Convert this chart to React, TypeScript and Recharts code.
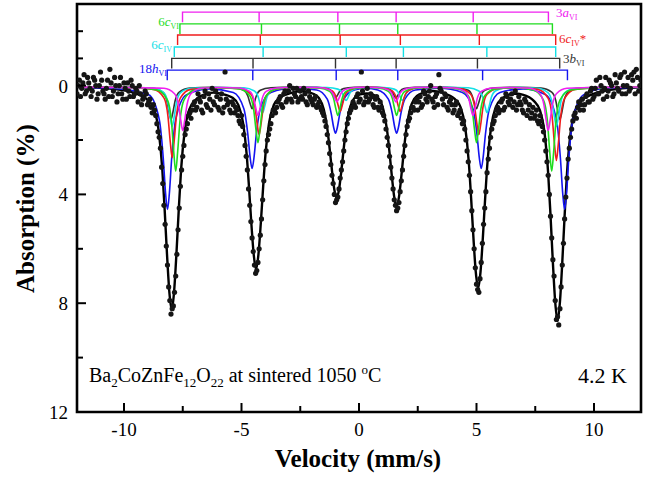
import React from 'react';
import { ComposedChart, Line, Scatter, XAxis, YAxis, ReferenceArea } from 'recharts';

const velocityTicks = [-10, -7.5, -5, -2.5, 0, 2.5, 5, 7.5, 10];
const velocityLabels = [-10, -5, 0, 5, 10];
const absorptionTicks = [-2, -1, 0, 2, 4, 6, 8, 10, 12];
const absorptionLabels = [0, 4, 8, 12];

// measured spectrum, [velocity mm/s, absorption %], even channels
const measuredA: [number, number][] = [
  [-12.0, 0.3], [-11.9, -0.2], [-11.8, 0.1], [-11.7, -0.4], [-11.6, 0.2], [-11.5, -0.1], [-11.4, 0.4], [-11.3, -0.3],
  [-11.2, 0.0], [-11.1, 0.3], [-11.0, -0.5], [-10.9, 0.2], [-10.8, 0.5], [-10.7, -0.2], [-10.6, -0.6], [-10.5, 0.4],
  [-10.4, -0.3], [-10.3, 0.6], [-10.2, 0.0], [-10.1, 0.3], [-10.0, -0.1], [-9.9, 0.5], [-9.8, 0.2], [-9.7, -0.2],
  [-9.6, 0.4], [-9.5, 0.1], [-9.4, 0.6], [-9.3, 0.3], [-9.2, 0.5], [-9.1, 0.2], [-9.0, 0.7], [-8.9, 0.5],
  [-8.8, 1.0], [-8.7, 0.9], [-8.6, 1.4], [-8.5, 1.9], [-8.4, 3.0], [-8.3, 4.4], [-8.2, 5.9], [-8.1, 7.4],
  [-8.0, 8.4], [-7.9, 8.1], [-7.8, 7.0], [-7.7, 5.3], [-7.6, 3.7], [-7.5, 2.6], [-7.4, 1.8], [-7.3, 1.4],
  [-7.2, 1.0], [-7.1, 0.9], [-7.0, 0.6], [-6.9, 0.8], [-6.8, 0.5], [-6.7, 0.9], [-6.6, 0.4], [-6.5, 0.7],
  [-6.4, 0.3], [-6.3, 0.9], [-6.2, 0.6], [-6.1, 0.2], [-6.0, 0.8], [-5.9, 0.5], [-5.8, 1.0], [-5.7, -0.5],
  [-5.6, 0.7], [-5.5, 0.9], [-5.4, 0.6], [-5.3, 1.0], [-5.2, 0.9], [-5.1, 1.3], [-5.0, 1.1], [-4.9, 1.8],
  [-4.8, 2.6], [-4.7, 3.8], [-4.6, 5.0], [-4.5, 6.1], [-4.4, 6.9], [-4.3, 6.5], [-4.2, 5.5], [-4.1, 4.2],
  [-4.0, 2.9], [-3.9, 2.0], [-3.8, 1.6], [-3.7, 1.1], [-3.6, 0.9], [-3.5, 0.8], [-3.4, 0.5], [-3.3, 0.7],
  [-3.2, 0.3], [-3.1, 0.6], [-3.0, 0.2], [-2.9, 0.5], [-2.8, 0.1], [-2.7, 0.4], [-2.6, 0.6], [-2.5, 0.2],
  [-2.4, 0.5], [-2.3, 0.3], [-2.2, 0.7], [-2.1, 0.4], [-2.0, 0.6], [-1.9, 0.5], [-1.8, 0.8], [-1.7, 0.6],
  [-1.6, 0.9], [-1.5, 1.1], [-1.4, 1.5], [-1.3, 2.1], [-1.2, 2.9], [-1.1, 3.6], [-1.0, 4.3], [-0.9, 4.1],
  [-0.8, 3.4], [-0.7, 2.8], [-0.6, 2.0], [-0.5, 1.4], [-0.4, 1.0], [-0.3, 0.8], [-0.2, 0.7], [-0.1, 0.4],
  [0.0, 0.6], [0.1, -0.5], [0.2, 0.7], [0.3, 0.4], [0.4, 0.6], [0.5, 0.3], [0.6, 0.7], [0.7, 0.5],
  [0.8, 0.8], [0.9, 0.6], [1.0, 1.0], [1.1, 1.3], [1.2, 1.9], [1.3, 2.6], [1.4, 3.4], [1.5, 4.2],
  [1.6, 4.6], [1.7, 4.3], [1.8, 3.5], [1.9, 2.6], [2.0, 1.8], [2.1, 1.3], [2.2, 1.0], [2.3, 0.8],
  [2.4, 0.6], [2.5, 0.9], [2.6, 0.4], [2.7, 0.7], [2.8, 0.3], [2.9, 0.6], [3.0, 0.2], [3.1, 0.5],
  [3.2, 0.8], [3.3, 0.3], [3.4, -0.4], [3.5, 0.2], [3.6, 0.7], [3.7, 0.4], [3.8, 0.9], [3.9, 0.5],
  [4.0, 1.0], [4.1, 0.7], [4.2, 1.1], [4.3, 0.9], [4.4, 1.4], [4.5, 1.6], [4.6, 2.4], [4.7, 3.3],
  [4.8, 4.6], [4.9, 6.0], [5.0, 7.3], [5.1, 7.6], [5.2, 6.5], [5.3, 5.1], [5.4, 3.9], [5.5, 2.7],
  [5.6, 1.9], [5.7, 1.4], [5.8, 1.1], [5.9, 0.8], [6.0, 0.9], [6.1, 0.5], [6.2, 0.8], [6.3, 0.4],
  [6.4, 0.7], [6.5, 0.3], [6.6, 0.6], [6.7, 0.9], [6.8, 0.4], [6.9, 0.7], [7.0, 1.0], [7.1, 0.6],
  [7.2, 0.9], [7.3, 1.2], [7.4, 0.8], [7.5, 1.1], [7.6, 1.3], [7.7, 1.1], [7.8, 1.5], [7.9, 2.0],
  [8.0, 2.8], [8.1, 4.0], [8.2, 5.6], [8.3, 7.0], [8.4, 8.6], [8.5, 8.8], [8.6, 7.4], [8.7, 5.8],
  [8.8, 4.1], [8.9, 2.7], [9.0, 1.9], [9.1, 1.3], [9.2, 1.0], [9.3, 0.8], [9.4, 0.9], [9.5, 0.5],
  [9.6, 0.7], [9.7, 0.3], [9.8, 0.6], [9.9, 0.1], [10.0, 0.4], [10.1, -0.2], [10.2, 0.3], [10.3, 0.0],
  [10.4, 0.5], [10.5, -0.3], [10.6, 0.2], [10.7, -0.1], [10.8, 0.4], [10.9, -0.4], [11.0, 0.1], [11.1, -0.3],
  [11.2, 0.3], [11.3, -0.5], [11.4, 0.0], [11.5, 0.2], [11.6, -0.4], [11.7, -0.5], [11.8, -0.6], [11.9, 0.2],
  [12.0, -0.2],
];

// odd channels
const measuredB: [number, number][] = [
  [-11.95, 0.0], [-11.85, 0.4], [-11.75, -0.1], [-11.65, 0.3], [-11.55, -0.3], [-11.45, 0.1], [-11.35, 0.2], [-11.25, -0.2],
  [-11.15, 0.5], [-11.05, 0.0], [-10.95, -0.2], [-10.85, 0.3], [-10.75, 0.1], [-10.65, 0.4], [-10.55, -0.1], [-10.45, 0.2],
  [-10.35, 0.0], [-10.25, 0.3], [-10.15, -0.3], [-10.05, 0.5], [-9.95, 0.1], [-9.85, -0.1], [-9.75, 0.4], [-9.65, 0.0],
  [-9.55, 0.3], [-9.45, 0.2], [-9.35, 0.0], [-9.25, 0.7], [-9.15, 0.4], [-9.05, 0.3], [-8.95, 0.6], [-8.85, 0.8],
  [-8.75, 0.7], [-8.65, 1.1], [-8.55, 1.7], [-8.45, 2.3], [-8.35, 3.6], [-8.25, 5.1], [-8.15, 6.6], [-8.05, 7.9],
  [-7.95, 8.2], [-7.85, 7.6], [-7.75, 6.2], [-7.65, 4.5], [-7.55, 3.1], [-7.45, 2.2], [-7.35, 1.6], [-7.25, 1.1],
  [-7.15, 1.2], [-7.05, 0.7], [-6.95, 0.9], [-6.85, 0.3], [-6.75, 0.6], [-6.65, 1.0], [-6.55, 0.2], [-6.45, 0.8],
  [-6.35, 0.5], [-6.25, 0.1], [-6.15, 0.7], [-6.05, 0.4], [-5.95, 0.9], [-5.85, 0.3], [-5.75, 0.8], [-5.65, 0.5],
  [-5.55, 0.6], [-5.45, 1.0], [-5.35, 0.7], [-5.25, 0.8], [-5.15, 1.1], [-5.05, 1.4], [-4.95, 1.5], [-4.85, 2.2],
  [-4.75, 3.1], [-4.65, 4.4], [-4.55, 5.6], [-4.45, 6.6], [-4.35, 6.8], [-4.25, 6.0], [-4.15, 4.9], [-4.05, 3.5],
  [-3.95, 2.4], [-3.85, 1.8], [-3.75, 1.4], [-3.65, 0.9], [-3.55, 1.0], [-3.45, 0.6], [-3.35, 0.4], [-3.25, 0.8],
  [-3.15, 0.2], [-3.05, 0.5], [-2.95, 0.0], [-2.85, 0.6], [-2.75, 0.3], [-2.65, 0.1], [-2.55, 0.5], [-2.45, 0.4],
  [-2.35, 0.1], [-2.25, 0.6], [-2.15, 0.2], [-2.05, 0.5], [-1.95, 0.7], [-1.85, 0.4], [-1.75, 0.7], [-1.65, 0.8],
  [-1.55, 1.0], [-1.45, 1.3], [-1.35, 1.8], [-1.25, 2.5], [-1.15, 3.3], [-1.05, 4.0], [-0.95, 4.2], [-0.85, 3.8],
  [-0.75, 3.1], [-0.65, 2.4], [-0.55, 1.7], [-0.45, 1.2], [-0.35, 0.9], [-0.25, 0.6], [-0.15, 0.8], [-0.05, 0.3],
  [0.05, 0.5], [0.15, 0.2], [0.25, 0.6], [0.35, 0.1], [0.45, 0.5], [0.55, 0.4], [0.65, 0.8], [0.75, 0.4],
  [0.85, 0.9], [0.95, 0.8], [1.05, 1.1], [1.15, 1.6], [1.25, 2.2], [1.35, 3.0], [1.45, 3.8], [1.55, 4.4],
  [1.65, 4.5], [1.75, 3.9], [1.85, 3.1], [1.95, 2.2], [2.05, 1.5], [2.15, 1.2], [2.25, 0.8], [2.35, 0.9],
  [2.45, 0.5], [2.55, 0.6], [2.65, 0.8], [2.75, 0.2], [2.85, 0.5], [2.95, 0.4], [3.05, 0.0], [3.15, 0.6],
  [3.25, 0.4], [3.35, 0.7], [3.45, 0.1], [3.55, 0.5], [3.65, 0.3], [3.75, 0.8], [3.85, 0.6], [3.95, 0.7],
  [4.05, 0.9], [4.15, 0.6], [4.25, 1.0], [4.35, 1.2], [4.45, 1.3], [4.55, 2.0], [4.65, 2.8], [4.75, 3.9],
  [4.85, 5.3], [4.95, 6.7], [5.05, 7.5], [5.15, 7.1], [5.25, 5.8], [5.35, 4.5], [5.45, 3.2], [5.55, 2.3],
  [5.65, 1.6], [5.75, 1.3], [5.85, 0.9], [5.95, 1.0], [6.05, 0.6], [6.15, 0.9], [6.25, 0.3], [6.35, 0.6],
  [6.45, 0.5], [6.55, 0.8], [6.65, 0.2], [6.75, 0.7], [6.85, 0.6], [6.95, 0.9], [7.05, 0.5], [7.15, 1.1],
  [7.25, 0.7], [7.35, 1.0], [7.45, 1.2], [7.55, 0.9], [7.65, 1.4], [7.75, 1.3], [7.85, 1.7], [7.95, 2.4],
  [8.05, 3.3], [8.15, 4.8], [8.25, 6.4], [8.35, 7.9], [8.45, 8.5], [8.55, 8.2], [8.65, 6.6], [8.75, 4.9],
  [8.85, 3.4], [8.95, 2.3], [9.05, 1.6], [9.15, 1.1], [9.25, 1.2], [9.35, 0.6], [9.45, 0.7], [9.55, 0.9],
  [9.65, 0.4], [9.75, 0.6], [9.85, 0.2], [9.95, 0.5], [10.05, 0.1], [10.15, 0.3], [10.25, -0.3], [10.35, 0.2],
  [10.45, 0.1], [10.55, 0.4], [10.65, -0.2], [10.75, 0.0], [10.85, 0.3], [10.95, -0.1], [11.05, 0.2], [11.15, -0.4],
  [11.25, 0.0], [11.35, 0.3], [11.45, -0.3], [11.55, 0.1], [11.65, -0.2], [11.75, 0.3], [11.85, -0.3], [11.95, 0.0],
];

// total fit
const fitTotal: [number, number][] = [
  [-12, 0.05], [-11, 0.08], [-10.3, 0.14],
  [-9.47, 0.3], [-8.97, 0.54], [-8.72, 0.87], [-8.52, 1.69], [-8.37, 3.08], [-8.27, 4.56], [-8.17, 6.2], [-8.07, 7.59],
  [-7.97, 8.25], [-7.87, 7.59], [-7.77, 6.2], [-7.67, 4.56], [-7.57, 3.08], [-7.42, 1.69], [-7.22, 0.87], [-6.97, 0.54], [-6.47, 0.3],
  [-6.2, 0.26],
  [-5.88, 0.3], [-5.38, 0.45], [-5.13, 0.72], [-4.93, 1.39], [-4.78, 2.53], [-4.68, 3.74], [-4.58, 5.08], [-4.48, 6.21],
  [-4.38, 6.75], [-4.28, 6.21], [-4.18, 5.08], [-4.08, 3.74], [-3.98, 2.53], [-3.83, 1.39], [-3.63, 0.72], [-3.38, 0.45], [-2.88, 0.27],
  [-2.45, 0.2], [-1.95, 0.3], [-1.7, 0.46], [-1.5, 0.87], [-1.35, 1.57], [-1.25, 2.31], [-1.15, 3.13], [-1.05, 3.82],
  [-0.95, 4.15], [-0.85, 3.82], [-0.75, 3.13], [-0.65, 2.31], [-0.55, 1.57], [-0.4, 0.87], [-0.2, 0.46], [0.05, 0.32],
  [0.33, 0.29],
  [0.6, 0.33], [0.85, 0.49], [1.05, 0.93], [1.2, 1.68], [1.3, 2.47], [1.4, 3.35], [1.5, 4.1],
  [1.6, 4.45], [1.7, 4.1], [1.8, 3.35], [1.9, 2.47], [2.0, 1.68], [2.15, 0.93], [2.35, 0.49], [2.6, 0.31], [3.1, 0.2],
  [3.57, 0.27], [4.07, 0.49], [4.32, 0.79], [4.52, 1.53], [4.67, 2.79], [4.77, 4.12], [4.87, 5.6], [4.97, 6.86],
  [5.07, 7.45], [5.17, 6.86], [5.27, 5.6], [5.37, 4.12], [5.47, 2.79], [5.62, 1.53], [5.82, 0.79], [6.07, 0.49], [6.57, 0.3],
  [6.76, 0.3],
  [6.95, 0.33], [7.45, 0.57], [7.7, 0.91], [7.9, 1.77], [8.05, 3.23], [8.15, 4.78], [8.25, 6.5], [8.35, 7.96],
  [8.45, 8.65], [8.55, 7.96], [8.65, 6.5], [8.75, 4.78], [8.85, 3.23], [9.0, 1.77], [9.2, 0.91], [9.45, 0.57], [9.95, 0.31],
  [10.5, 0.18], [11.2, 0.1], [12, 0.06],
];

// subspectra
const fit18hVI: [number, number][] = [
  [-12, 0.06], [-10.5, 0.1],
  [-8.95, 0.34], [-8.5, 1.24], [-8.33, 2.66], [-8.23, 3.97], [-8.15, 4.55], [-8.07, 3.97], [-7.97, 2.66], [-7.8, 1.24], [-7.35, 0.34],
  [-6.35, 0.12],
  [-5.35, 0.25], [-4.9, 0.85], [-4.73, 1.79], [-4.63, 2.66], [-4.55, 3.05], [-4.47, 2.66], [-4.37, 1.79], [-4.2, 0.85], [-3.75, 0.25],
  [-2.78, 0.1],
  [-1.8, 0.16], [-1.35, 0.5], [-1.18, 1.04], [-1.08, 1.53], [-1.0, 1.75], [-0.92, 1.53], [-0.82, 1.04], [-0.65, 0.5], [-0.2, 0.16],
  [0.3, 0.1],
  [0.8, 0.16], [1.25, 0.5], [1.42, 1.04], [1.52, 1.53], [1.6, 1.75], [1.68, 1.53], [1.78, 1.04], [1.95, 0.5], [2.4, 0.16],
  [3.4, 0.1],
  [4.4, 0.25], [4.85, 0.85], [5.02, 1.79], [5.12, 2.66], [5.2, 3.05], [5.28, 2.66], [5.38, 1.79], [5.55, 0.85], [6.0, 0.25],
  [6.98, 0.12],
  [7.95, 0.34], [8.4, 1.24], [8.57, 2.66], [8.67, 3.97], [8.75, 4.55], [8.83, 3.97], [8.93, 2.66], [9.1, 1.24], [9.55, 0.34],
  [10.5, 0.1], [12, 0.06],
];

const fit6cVI: [number, number][] = [
  [-12, 0.05], [-10, 0.07],
  [-8.6, 0.16], [-8.15, 0.53], [-7.98, 1.32], [-7.88, 2.47], [-7.8, 3.15], [-7.72, 2.47], [-7.62, 1.32], [-7.45, 0.53], [-7.0, 0.16],
  [-6.05, 0.08],
  [-5.1, 0.12], [-4.65, 0.37], [-4.48, 0.89], [-4.38, 1.65], [-4.3, 2.1], [-4.22, 1.65], [-4.12, 0.89], [-3.95, 0.37], [-3.5, 0.12],
  [-2.6, 0.07],
  [-1.7, 0.09], [-1.25, 0.21], [-1.08, 0.48], [-0.98, 0.87], [-0.9, 1.1], [-0.82, 0.87], [-0.72, 0.48], [-0.55, 0.21], [-0.1, 0.09],
  [0.35, 0.07],
  [0.8, 0.09], [1.25, 0.21], [1.42, 0.48], [1.52, 0.87], [1.6, 1.1], [1.68, 0.87], [1.78, 0.48], [1.95, 0.21], [2.4, 0.09],
  [3.3, 0.07],
  [4.2, 0.12], [4.65, 0.37], [4.82, 0.89], [4.92, 1.65], [5.0, 2.1], [5.08, 1.65], [5.18, 0.89], [5.35, 0.37], [5.8, 0.12],
  [6.6, 0.08],
  [7.4, 0.16], [7.85, 0.53], [8.02, 1.32], [8.12, 2.47], [8.2, 3.15], [8.28, 2.47], [8.38, 1.32], [8.55, 0.53], [9.0, 0.16],
  [10.5, 0.07], [12, 0.05],
];

const fit6cIVstar: [number, number][] = [
  [-12, 0.05], [-10, 0.07],
  [-8.75, 0.14], [-8.3, 0.45], [-8.13, 1.12], [-8.03, 2.08], [-7.95, 2.65], [-7.87, 2.08], [-7.77, 1.12], [-7.6, 0.45], [-7.15, 0.14],
  [-6.1, 0.08],
  [-5.05, 0.11], [-4.6, 0.32], [-4.43, 0.77], [-4.33, 1.42], [-4.25, 1.8], [-4.17, 1.42], [-4.07, 0.77], [-3.9, 0.32], [-3.45, 0.11],
  [-2.5, 0.07],
  [-1.6, 0.08], [-1.15, 0.19], [-0.98, 0.42], [-0.88, 0.75], [-0.8, 0.95], [-0.72, 0.75], [-0.62, 0.42], [-0.45, 0.19], [0.0, 0.08],
  [0.5, 0.06],
  [0.95, 0.08], [1.4, 0.19], [1.57, 0.42], [1.67, 0.75], [1.75, 0.95], [1.83, 0.75], [1.93, 0.42], [2.1, 0.19], [2.55, 0.08],
  [3.4, 0.07],
  [4.3, 0.11], [4.75, 0.32], [4.92, 0.77], [5.02, 1.42], [5.1, 1.8], [5.18, 1.42], [5.28, 0.77], [5.45, 0.32], [5.9, 0.11],
  [6.75, 0.08],
  [7.6, 0.14], [8.05, 0.47], [8.22, 1.16], [8.32, 2.16], [8.4, 2.75], [8.48, 2.16], [8.58, 1.16], [8.75, 0.47], [9.2, 0.14],
  [10.5, 0.07], [12, 0.05],
];

const fit6cIV: [number, number][] = [
  [-12, 0.05], [-10, 0.07],
  [-8.75, 0.1], [-8.3, 0.27], [-8.13, 0.64], [-8.03, 1.18], [-7.95, 1.5], [-7.87, 1.18], [-7.77, 0.64], [-7.6, 0.27], [-7.15, 0.1],
  [-6.0, 0.07],
  [-4.9, 0.08], [-4.45, 0.2], [-4.28, 0.44], [-4.18, 0.79], [-4.1, 1.0], [-4.02, 0.79], [-3.92, 0.44], [-3.75, 0.2], [-3.3, 0.08],
  [-2.3, 0.06],
  [-1.35, 0.07], [-0.9, 0.13], [-0.73, 0.25], [-0.63, 0.44], [-0.55, 0.55], [-0.47, 0.44], [-0.37, 0.25], [-0.2, 0.13], [0.25, 0.07],
  [0.65, 0.06],
  [1.05, 0.07], [1.5, 0.13], [1.67, 0.25], [1.77, 0.44], [1.85, 0.55], [1.93, 0.44], [2.03, 0.25], [2.2, 0.13], [2.65, 0.07],
  [3.65, 0.06],
  [4.65, 0.08], [5.1, 0.2], [5.27, 0.44], [5.37, 0.79], [5.45, 1.0], [5.53, 0.79], [5.63, 0.44], [5.8, 0.2], [6.25, 0.08],
  [6.9, 0.07],
  [7.6, 0.1], [8.05, 0.27], [8.22, 0.64], [8.32, 1.18], [8.4, 1.5], [8.48, 1.18], [8.58, 0.64], [8.75, 0.27], [9.2, 0.1],
  [10.5, 0.06], [12, 0.05],
];

const fit3aVI: [number, number][] = [
  [-12, 0.05], [-10, 0.07],
  [-8.3, 0.1], [-7.85, 0.3], [-7.68, 0.71], [-7.58, 1.3], [-7.5, 1.65], [-7.42, 1.3], [-7.32, 0.71], [-7.15, 0.3], [-6.7, 0.1],
  [-5.9, 0.07],
  [-5.1, 0.09], [-4.65, 0.21], [-4.48, 0.48], [-4.38, 0.87], [-4.3, 1.1], [-4.22, 0.87], [-4.12, 0.48], [-3.95, 0.21], [-3.5, 0.09],
  [-2.6, 0.06],
  [-1.74, 0.07], [-1.29, 0.14], [-1.12, 0.28], [-1.02, 0.48], [-0.94, 0.6], [-0.86, 0.48], [-0.76, 0.28], [-0.59, 0.14], [-0.14, 0.07],
  [0.3, 0.06],
  [0.77, 0.07], [1.22, 0.14], [1.39, 0.28], [1.49, 0.48], [1.57, 0.6], [1.65, 0.48], [1.75, 0.28], [1.92, 0.14], [2.37, 0.07],
  [3.2, 0.06],
  [4.05, 0.09], [4.5, 0.21], [4.67, 0.48], [4.77, 0.87], [4.85, 1.1], [4.93, 0.87], [5.03, 0.48], [5.2, 0.21], [5.65, 0.09],
  [6.45, 0.07],
  [7.25, 0.1], [7.7, 0.3], [7.87, 0.71], [7.97, 1.3], [8.05, 1.65], [8.13, 1.3], [8.23, 0.71], [8.4, 0.3], [8.85, 0.1],
  [10.5, 0.06], [12, 0.05],
];

const fit3bVI: [number, number][] = [
  [-12, 0.05], [-10, 0.06],
  [-8.8, 0.09], [-8.35, 0.24], [-8.18, 0.54], [-8.08, 0.99], [-8.0, 1.25], [-7.92, 0.99], [-7.82, 0.54], [-7.65, 0.24], [-7.2, 0.09],
  [-6.3, 0.06],
  [-5.35, 0.08], [-4.9, 0.17], [-4.73, 0.38], [-4.63, 0.67], [-4.55, 0.85], [-4.47, 0.67], [-4.37, 0.38], [-4.2, 0.17], [-3.75, 0.08],
  [-2.8, 0.05],
  [-1.8, 0.06], [-1.35, 0.11], [-1.18, 0.21], [-1.08, 0.36], [-1.0, 0.45], [-0.92, 0.36], [-0.82, 0.21], [-0.65, 0.11], [-0.2, 0.06],
  [0.3, 0.05],
  [0.77, 0.06], [1.22, 0.11], [1.39, 0.21], [1.49, 0.36], [1.57, 0.45], [1.65, 0.36], [1.75, 0.21], [1.92, 0.11], [2.37, 0.06],
  [3.3, 0.05],
  [4.2, 0.08], [4.65, 0.17], [4.82, 0.38], [4.92, 0.67], [5.0, 0.85], [5.08, 0.67], [5.18, 0.38], [5.35, 0.17], [5.8, 0.08],
  [6.8, 0.06],
  [7.75, 0.09], [8.2, 0.24], [8.37, 0.54], [8.47, 0.99], [8.55, 1.25], [8.63, 0.99], [8.73, 0.54], [8.9, 0.24], [9.35, 0.09],
  [10.5, 0.06], [12, 0.05],
];

// line positions of each site (stick diagram)
const lines3aVI = [-7.51, -4.25, -0.9, 1.58, 4.86, 8.06];
const lines6cVI = [-7.62, -4.15, -0.83, 1.65, 5.02, 8.23];
const lines6cIVstar = [-7.72, -4.2, -0.8, 1.76, 5.12, 8.37];
const lines6cIV = [-7.86, -4.08, -0.54, 1.89, 5.44, 8.37];
const lines3bVI = [-7.97, -4.51, -1.0, 1.58, 5.04, 8.54];
const lines18hVI = [-8.16, -4.52, -0.97, 1.65, 5.26, 8.87];

const C = {
  blue: '#1414f0',
  green: '#1fdc1f',
  red: '#f01c1c',
  cyan: '#14e0e6',
  magenta: '#f020f0',
  dark: '#333333',
};

const SERIF = '"Liberation Serif", "Times New Roman", serif';
const TICK_LEN = 0.37;

const stickRows = [
  { pos: lines3aVI, y: -2.7, color: C.magenta },
  { pos: lines6cVI, y: -2.27, color: C.green },
  { pos: lines6cIVstar, y: -1.86, color: C.red },
  { pos: lines6cIV, y: -1.42, color: C.cyan },
  { pos: lines3bVI, y: -1.0, color: C.dark },
  { pos: lines18hVI, y: -0.57, color: C.blue },
];

const toPoints = (pairs: [number, number][]) => pairs.map(([v, a]) => ({ v, a }));
const stickPoints = (pos: number[], y: number) =>
  pos.flatMap((p) => [
    { v: p, a: y },
    { v: p, a: y + TICK_LEN },
    { v: p, a: y },
  ]);

const subSeries = [
  { data: fit18hVI, color: C.blue },
  { data: fit3bVI, color: C.dark },
  { data: fit6cIV, color: C.cyan },
  { data: fit6cIVstar, color: C.red },
  { data: fit6cVI, color: C.green },
  { data: fit3aVI, color: C.magenta },
];

const XTick = (props: any) => {
  const { x, y, payload } = props;
  const major = velocityLabels.includes(payload.value);
  return (
    <g>
      <line x1={x} x2={x} y1={y} y2={y - (major ? 9 : 6)} stroke="#000" strokeWidth={2} />
      {major && (
        <text x={x} y={y + 24} textAnchor="middle" fontSize={19} fontFamily={SERIF} fill="#000">
          {payload.value}
        </text>
      )}
    </g>
  );
};

const YTick = (props: any) => {
  const { x, y, payload } = props;
  const major = absorptionLabels.includes(payload.value);
  return (
    <g>
      <line x1={x} x2={x + (major ? 9 : 6)} y1={y} y2={y} stroke="#000" strokeWidth={2} />
      {major && (
        <text x={x - 9} y={y + 7} textAnchor="end" fontSize={19} fontFamily={SERIF} fill="#000">
          {payload.value}
        </text>
      )}
    </g>
  );
};

const Dot = (p: any) => <circle cx={p.cx} cy={p.cy} r={2.6} fill="#151515" />;

export default function App() {
  return (
    <div style={{ position: 'absolute', left: 0, top: 0, width: 649, height: 477, background: '#fff' }}>
      <ComposedChart width={649} height={477} margin={{ top: 4, right: 8, bottom: 0, left: 0 }}>
        <XAxis
          type="number"
          dataKey="v"
          domain={[-12, 12]}
          ticks={velocityTicks}
          interval={0}
          allowDataOverflow
          height={65}
          tickSize={0}
          tickMargin={0}
          tickLine={false}
          axisLine={false}
          tick={XTick}
        />
        <YAxis
          type="number"
          dataKey="a"
          domain={[-3, 12]}
          reversed
          ticks={absorptionTicks}
          interval={0}
          allowDataOverflow
          width={77}
          tickSize={0}
          tickMargin={0}
          tickLine={false}
          axisLine={false}
          tick={YTick}
        />
        <Scatter data={toPoints(measuredA)} shape={Dot} isAnimationActive={false} />
        <Scatter data={toPoints(measuredB)} shape={Dot} isAnimationActive={false} />
        <Line
          data={toPoints(fitTotal)}
          dataKey="a"
          type="monotone"
          stroke="#000"
          strokeWidth={2.4}
          dot={false}
          activeDot={false}
          isAnimationActive={false}
        />
        {subSeries.map((s, i) => (
          <Line
            key={'sub' + i}
            data={toPoints(s.data)}
            dataKey="a"
            type="monotone"
            stroke={s.color}
            strokeWidth={1.6}
            dot={false}
            activeDot={false}
            isAnimationActive={false}
          />
        ))}
        {stickRows.map((r, i) => (
          <Line
            key={'stick' + i}
            data={stickPoints(r.pos, r.y)}
            dataKey="a"
            type="linear"
            stroke={r.color}
            strokeWidth={1.4}
            dot={false}
            activeDot={false}
            isAnimationActive={false}
          />
        ))}
        <ReferenceArea x1={-12} x2={12} y1={-3} y2={12} fill="none" stroke="#000" strokeWidth={2.6} />
      </ComposedChart>

      <svg
        width={649}
        height={477}
        style={{ position: 'absolute', left: 0, top: 0, pointerEvents: 'none' }}
        fontFamily={SERIF}
      >
        <text x={179} y={26} textAnchor="end" fontSize={13} fill={C.green}>
          6<tspan fontStyle="italic">c</tspan>
          <tspan fontSize={8} dy={3}>VI</tspan>
        </text>
        <text x={172} y={49} textAnchor="end" fontSize={13} fill={C.cyan}>
          6<tspan fontStyle="italic">c</tspan>
          <tspan fontSize={8} dy={3}>IV</tspan>
        </text>
        <text x={167} y={72.5} textAnchor="end" fontSize={13} fill={C.blue}>
          18<tspan fontStyle="italic">h</tspan>
          <tspan fontSize={8} dy={3}>VI</tspan>
        </text>
        <text x={556} y={17} fontSize={13} fill={C.magenta}>
          3<tspan fontStyle="italic">a</tspan>
          <tspan fontSize={8} dy={3}>VI</tspan>
        </text>
        <text x={559} y={42.5} fontSize={13} fill={C.red}>
          6<tspan fontStyle="italic">c</tspan>
          <tspan fontSize={8} dy={3}>IV</tspan>
          <tspan dy={-3}>*</tspan>
        </text>
        <text x={563} y={63} fontSize={13} fill={C.dark}>
          3<tspan fontStyle="italic">b</tspan>
          <tspan fontSize={8} dy={3}>VI</tspan>
        </text>

        <text x={89} y={382} fontSize={20} fill="#000">
          Ba<tspan fontSize={13} dy={5}>2</tspan>
          <tspan dy={-5}>CoZnFe</tspan>
          <tspan fontSize={13} dy={5}>12</tspan>
          <tspan dy={-5}>O</tspan>
          <tspan fontSize={13} dy={5}>22</tspan>
          <tspan dy={-5}>{' at sintered 1050 '}</tspan>
          <tspan fontSize={13} dy={-8}>o</tspan>
          <tspan dy={8}>C</tspan>
        </text>
        <text x={578} y={383} fontSize={22} fill="#000">4.2 K</text>

        <text x={358} y={467} textAnchor="middle" fontSize={25} fontWeight="bold" fill="#000">
          Velocity (mm/s)
        </text>
        <text transform="translate(34,293) rotate(-90)" fontSize={25} fontWeight="bold" fill="#000">
          Absorption (%)
        </text>
      </svg>
    </div>
  );
}
